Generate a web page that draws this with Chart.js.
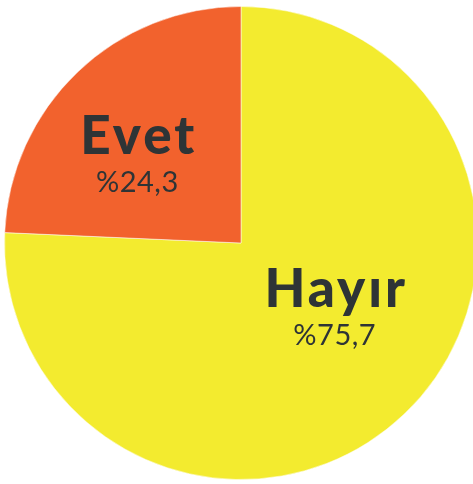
<!DOCTYPE html>
<html lang="tr">
<head>
<meta charset="utf-8">
<script src="https://cdn.jsdelivr.net/npm/chart.js@4.4.0/dist/chart.umd.min.js"></script>
<style>
  html, body { margin: 0; padding: 0; background: #fff; overflow: hidden; }
  #wrap { width: 482px; height: 484px; }
</style>
</head>
<body>
<div id="wrap"><canvas id="pie"></canvas></div>
<script>
// data (order: clockwise from 12 o'clock)
const labels = ['Hayır', 'Evet'];
const values = [75.7, 24.3];
const colors = ['#F3EB2F', '#F2622D'];
const valueTexts = ['%75,7', '%24,3'];
// label anchor: angle (deg, canvas coords) and distance as share of radius
const labelAngles = [32.5, -138];
const labelDist = [0.47, 0.59];

const sliceLabels = {
  id: 'sliceLabels',
  afterDatasetsDraw(chart) {
    const { ctx } = chart;
    const arcs = chart.getDatasetMeta(0).data;
    arcs.forEach((arc, i) => {
      const a = labelAngles[i] * Math.PI / 180;
      const d = arc.outerRadius * labelDist[i];
      const x = arc.x + Math.cos(a) * d;
      const y = arc.y + Math.sin(a) * d;
      ctx.save();
      ctx.fillStyle = '#2E3436';
      ctx.textAlign = 'center';
      ctx.textBaseline = 'alphabetic';
      ctx.letterSpacing = '3px';
      ctx.font = '900 53px Lato';
      ctx.fillText(labels[i], x + 1.5, y + 4);
      ctx.letterSpacing = '0.5px';
      ctx.font = '400 29px Lato';
      ctx.fillText(valueTexts[i], x, y + 42);
      ctx.restore();
    });
  }
};

new Chart(document.getElementById('pie'), {
  type: 'pie',
  data: {
    labels: labels,
    datasets: [{
      data: values,
      backgroundColor: colors,
      borderColor: 'rgba(255,255,255,0.5)',
      borderWidth: 1
    }]
  },
  options: {
    responsive: true,
    maintainAspectRatio: false,
    animation: false,
    layout: { padding: { left: 4, right: 4, top: 6, bottom: 4 } },
    plugins: {
      legend: { display: false },
      tooltip: { enabled: false }
    }
  },
  plugins: [sliceLabels]
});
</script>
</body>
</html>
